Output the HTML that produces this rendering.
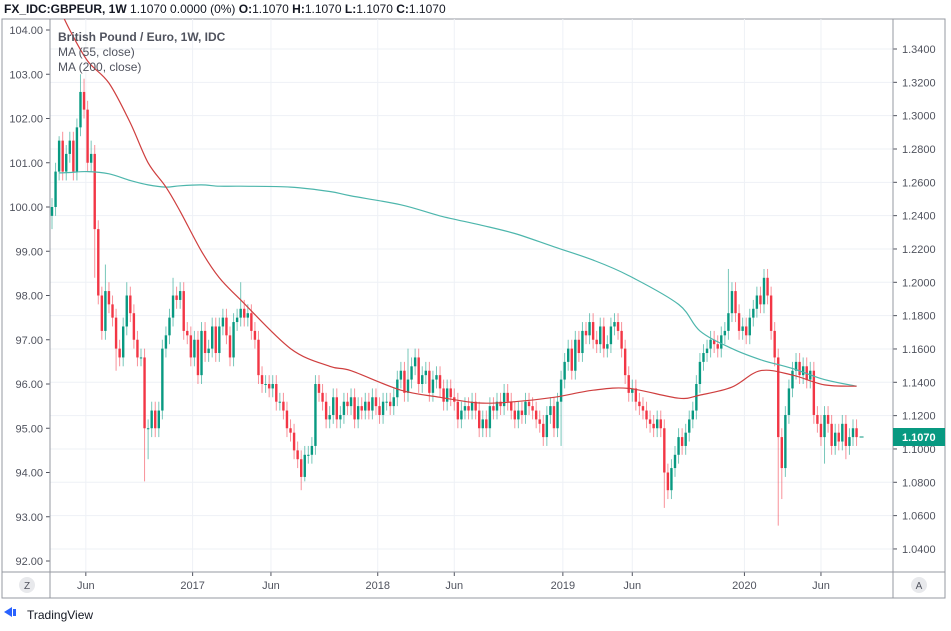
<!DOCTYPE html>
<html><head><meta charset="utf-8"><style>
body{margin:0;background:#fff;width:951px;height:626px;overflow:hidden;font-family:"Liberation Sans",sans-serif}
svg text{font-family:"Liberation Sans",sans-serif}
</style></head><body>
<svg id="c" width="951" height="626" xmlns="http://www.w3.org/2000/svg">
<text x="4" y="13" font-size="12" fill="#131722"><tspan font-weight="bold">FX_IDC:GBPEUR, 1W</tspan> 1.1070 0.0000 (0%) <tspan font-weight="bold">O:</tspan>1.1070 <tspan font-weight="bold">H:</tspan>1.1070 <tspan font-weight="bold">L:</tspan>1.1070 <tspan font-weight="bold">C:</tspan>1.1070</text>
<rect x="2" y="19" width="943" height="579" fill="none" stroke="#9598a1" stroke-width="1"/>
<g id="grid"></g><g id="marks"></g><g id="axes"></g>
<text x="58" y="41" font-size="12" font-weight="bold" fill="#50535e">British Pound / Euro, 1W, IDC</text>
<text x="58" y="56" font-size="12" fill="#50535e">MA (55, close)</text>
<text x="58" y="71" font-size="12" fill="#50535e">MA (200, close)</text>
<circle cx="27" cy="585" r="8" fill="#e8e9ec"/>
<text x="27" y="589" font-size="10" text-anchor="middle" fill="#50535e">Z</text>
<circle cx="919" cy="585" r="8" fill="#e8e9ec"/>
<text x="919" y="589" font-size="10" text-anchor="middle" fill="#50535e">A</text>
<g>
<path d="M4 612 l8 -5 l0 10 z" fill="#2962ff"/><rect x="13" y="609" width="3" height="7" fill="#2962ff"/>
<text x="27" y="619" font-size="12" fill="#131722">TradingView</text></g>
</svg>
<script>
const closes=[100.0,100.8,101.5,100.8,101.2,101.5,100.8,101.8,102.6,102.2,
101.0,101.2,99.5,98.0,97.2,98.1,97.8,97.5,96.8,96.6,
97.3,98.0,97.6,97.0,96.6,96.6,95.0,95.0,95.4,95.0,
95.4,96.8,97.1,97.5,98.0,97.9,98.1,97.2,97.1,96.6,
97.0,96.2,97.2,96.7,96.8,97.3,96.7,97.3,97.5,97.1,
96.6,97.4,97.5,97.7,97.5,97.6,97.2,97.0,96.2,96.0,
96.0,95.9,96.0,95.6,95.6,95.4,95.0,94.9,94.5,94.3,
93.9,94.4,94.4,94.6,96.0,95.8,95.6,95.2,95.3,95.7,
95.2,95.3,95.6,95.5,95.7,95.2,95.5,95.4,95.6,95.4,
95.7,95.5,95.3,95.6,95.6,95.5,95.7,96.1,96.3,95.8,
96.1,96.4,96.6,96.0,96.2,96.3,95.8,96.1,96.2,95.9,
95.6,95.9,95.7,95.6,95.2,95.4,95.5,95.4,95.6,95.4,
95.0,95.2,95.0,95.5,95.4,95.6,95.5,95.8,95.6,95.4,
95.2,95.4,95.3,95.6,95.5,95.4,95.2,95.1,94.8,95.3,
95.5,95.0,95.6,96.1,96.5,96.8,96.3,97.0,96.7,97.2,
97.1,97.4,97.0,96.9,97.3,96.8,96.9,97.3,97.4,97.2,
96.8,96.2,95.8,95.9,95.6,95.5,95.4,95.2,95.1,95.0,
95.2,95.0,94.0,93.6,94.1,94.4,94.8,94.6,94.9,95.2,
95.4,96.0,96.5,96.7,96.8,97.0,96.9,96.8,97.1,97.2,
97.6,98.1,97.6,97.2,97.3,97.1,97.5,97.7,98.0,97.8,
98.4,98.0,97.2,96.6,94.8,94.1,95.3,95.9,96.3,96.5,
96.2,96.4,96.1,96.3,95.3,95.1,94.8,95.3,95.1,94.6,
94.9,94.7,95.1,94.6,94.8,95.0,94.8];
const firstOpen=99.8;
const highOver={2:101.6,8:103.0,9:102.9,11:101.5,15:98.7,21:98.3,34:98.4,36:98.3,53:98.3,100:96.8,190:98.6,200:98.6,225:95.2};
const lowOver={0:99.5,12:98.4,18:96.3,26:93.8,27:94.3,70:93.6,71:93.8,143:94.6,172:93.2,173:93.4,204:92.8,205:93.4,217:94.2,223:94.3};
const maIdx=[2,5,10,16,22,27,32,36,42,47,53,67,78,84,98,109,120,130,141,152,162,176,182,191,199,208,217,226];
const ma55=[104.5,104.0,103.3,102.8,101.9,101.0,100.45,99.9,99.0,98.4,97.9,96.8,96.4,96.3,95.86,95.7,95.57,95.6,95.7,95.86,95.9,95.68,95.75,95.93,96.3,96.2,95.98,95.95];
const ma200=[100.77,100.78,100.8,100.75,100.6,100.5,100.45,100.48,100.5,100.47,100.47,100.45,100.35,100.25,100.05,99.8,99.6,99.4,99.1,98.8,98.45,97.8,97.2,96.8,96.55,96.35,96.1,95.95];
const rightTicks=["1.3400","1.3200","1.3000","1.2800","1.2600","1.2400","1.2200","1.2000","1.1800","1.1600","1.1400","1.1200","1.1000","1.0800","1.0600","1.0400"];
const leftTicks=[104,103,102,101,100,99,98,97,96,95,94,93,92];
const timeLabels=["Jun","2017","Jun","2018","Jun","2019","Jun","2020","Jun"];
const timeIdx=[9.5,39.5,61.5,91.5,113,143.5,163,194.5,216];

const NS="http://www.w3.org/2000/svg";
const X0=52,DX=3.56,L=50,R=893,T=19,B=572;
const xs=i=>X0+i*DX;
const yL=v=>30+(104-v)*44.25;
function el(tag,attrs,parent){const e=document.createElementNS(NS,tag);for(const k in attrs)e.setAttribute(k,attrs[k]);parent.appendChild(e);return e;}
const grid=document.getElementById('grid'),marks=document.getElementById('marks'),axes=document.getElementById('axes');
const defs=el('defs',{},document.getElementById('c'));
const cp=el('clipPath',{id:'clip'},defs);el('rect',{x:L,y:T,width:R-L,height:B-T},cp);
marks.setAttribute('clip-path','url(#clip)');
rightTicks.forEach((t,k)=>{const y=49+k*33.33;
 const g=el('line',{x1:L,x2:R,y1:y,y2:y,stroke:'#eef1f6','stroke-width':1},grid);
 
 
 const tx=el('text',{x:902,y:y+4,'font-size':11,fill:'#50535e'},axes);tx.textContent=t;
 
 
 el('line',{x1:R,x2:R+4,y1:y,y2:y,stroke:'#50535e'},axes);
});
timeLabels.forEach((t,k)=>{const x=xs(timeIdx[k]);
 const g=el('line',{x1:x,x2:x,y1:T,y2:B,stroke:'#eef1f6','stroke-width':1},grid);
 
 
 el('line',{x1:x,x2:x,y1:B,y2:B+4,stroke:'#50535e'},axes);
 const tx=el('text',{x:x,y:589,'font-size':11,fill:'#50535e','text-anchor':'middle'},axes);tx.textContent=t;
 
 
});
leftTicks.forEach(v=>{const y=yL(v);
 el('line',{x1:L-4,x2:L,y1:y,y2:y,stroke:'#50535e'},axes);
 const tx=el('text',{x:L-7,y:y+4,'font-size':11,fill:'#50535e','text-anchor':'end'},axes);tx.textContent=v.toFixed(2);
 
 
});
el('line',{x1:L,x2:L,y1:T,y2:598,stroke:'#9598a1'},axes);
el('line',{x1:R,x2:R,y1:T,y2:598,stroke:'#9598a1'},axes);
el('line',{x1:2,x2:945,y1:B,y2:B,stroke:'#9598a1'},axes);
closes.forEach((c,i)=>{
 const o=i===0?firstOpen:closes[i-1];
 const up=c>=o, col=up?'#089981':'#f23645';
 const hi=highOver[i]!==undefined?highOver[i]:Math.max(o,c)+0.2;
 const lo=lowOver[i]!==undefined?lowOver[i]:Math.min(o,c)-0.2;
 const x=xs(i);
 const w=el('line',{x1:x,x2:x,y1:yL(hi),y2:yL(lo),stroke:col,'stroke-opacity':0.55,'stroke-width':1},marks);
 
 
 const top=yL(Math.max(o,c)),h=Math.max(1,yL(Math.min(o,c))-top);
 const b=el('rect',{x:x-1.2,y:top,width:2.4,height:h,fill:col},marks);
 
 
});
function line(arr,col,name){
 const P=arr.map((v,k)=>[xs(maIdx[k]),yL(v)]);
 let d='M'+P[0][0].toFixed(1)+' '+P[0][1].toFixed(1);
 for(let k=0;k<P.length-1;k++){
  const p0=P[k-1]||P[k],p1=P[k],p2=P[k+1],p3=P[k+2]||P[k+1];
  const c1=[p1[0]+(p2[0]-p0[0])/6,p1[1]+(p2[1]-p0[1])/6];
  const c2=[p2[0]-(p3[0]-p1[0])/6,p2[1]-(p3[1]-p1[1])/6];
  d+=' C'+c1[0].toFixed(1)+' '+c1[1].toFixed(1)+' '+c2[0].toFixed(1)+' '+c2[1].toFixed(1)+' '+p2[0].toFixed(1)+' '+p2[1].toFixed(1);
 }
 const p=el('path',{d:d,fill:'none',stroke:col,'stroke-width':1.2},marks);
 
 
}
line(ma200,'#4db6ac','ma200-line');
line(ma55,'#cf3f3f','ma55-line');
const ly=437;
const lb=el('rect',{x:R,y:ly-9,width:52,height:18,fill:'#089981'},axes);


const lt=el('text',{x:902,y:ly+4,'font-size':11,'font-weight':'bold',fill:'#fff'},axes);lt.textContent='1.1070';
el('line',{x1:xs(226)+3,x2:xs(226)+7,y1:ly,y2:ly,stroke:'#089981'},axes);
</script>
</body></html>
